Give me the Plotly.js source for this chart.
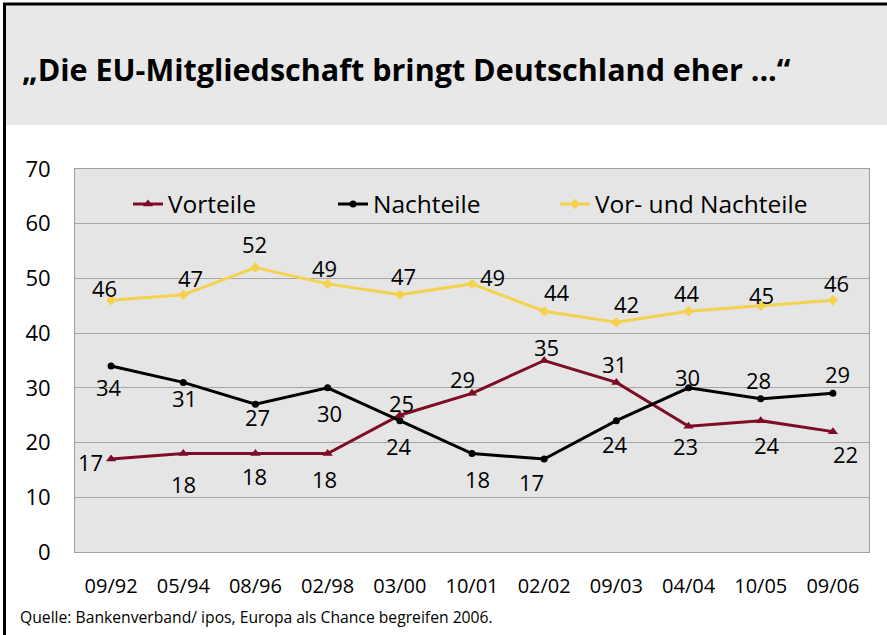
<!DOCTYPE html>
<html>
<head>
<meta charset="utf-8">
<script src="https://cdn.plot.ly/plotly-3.0.1.min.js"></script>
<style>html,body{margin:0;padding:0;background:#fff;}#chart{width:887px;height:635px;}</style>
</head>
<body>
<div id="chart"></div>
<script>
// ---- data ----
const categories = ["09/92","05/94","08/96","02/98","03/00","10/01","02/02","09/03","04/04","10/05","09/06"];
const vorteile   = [17,18,18,18,25,29,35,31,23,24,22];
const nachteile  = [34,31,27,30,24,18,17,24,30,28,29];
const vorNach    = [46,47,52,49,47,49,44,42,44,45,46];
const seriesNames = ["Vorteile","Nachteile","Vor- und Nachteile"];
const titleText = "„Die EU-Mitgliedschaft bringt Deutschland eher ...“";
const sourceText = "Quelle: Bankenverband/ ipos, Europa als Chance begreifen 2006.";

// ---- label placement offsets (px, dx right, dy down) ----
const offVor  = [[-21,3],[0,30],[-1,22],[-3,25],[2,-12],[-10,-14],[2,-14],[-2,-18],[-3,20],[6,24],[13,22]];
const offNach = [[-2,21],[1,16],[2,13],[2,25],[-1,25],[5,25],[-13,23],[-1,23],[-1,-11],[-2,-19],[5,-19]];
const offVN   = [[-7,-12],[7,-17],[-1,-23],[-3,-16],[4,-19],[20,-7],[13,-19],[10,-18],[-2,-18],[1,-11],[4,-17]];

const FONT = "Open Sans, Noto Sans, sans-serif";
const cRed = "#7d0c24", cBlack = "#000000", cYellow = "#f5d24e";

const traces = [
  {x: categories, y: vorteile, name: seriesNames[0], type: "scatter", mode: "lines+markers",
   line: {color: cRed, width: 3}, marker: {symbol: "triangle-up", size: 9, color: cRed}, legend: "legend"},
  {x: categories, y: nachteile, name: seriesNames[1], type: "scatter", mode: "lines+markers",
   line: {color: cBlack, width: 3}, marker: {symbol: "circle", size: 7, color: cBlack}, legend: "legend2"},
  {x: categories, y: vorNach, name: seriesNames[2], type: "scatter", mode: "lines+markers",
   line: {color: cYellow, width: 3}, marker: {symbol: "diamond", size: 8, color: cYellow}, legend: "legend3"}
];

const annotations = [];
function addLabels(vals, offs) {
  vals.forEach((v, i) => {
    annotations.push({x: categories[i], y: v, xref: "x", yref: "y", text: String(v), showarrow: false,
      xshift: offs[i][0], yshift: -offs[i][1], xanchor: "center", yanchor: "middle",
      font: {family: FONT, size: 22, color: "#000"}});
  });
}
addLabels(vorteile, offVor);
addLabels(nachteile, offNach);
addLabels(vorNach, offVN);

// plot area: px x 75..869, y 169..552
const L = 75, R = 869, T = 169, B = 552, W = 887, H = 635;
const px = v => (v - L) / (R - L);
const py = v => (B - v) / (B - T);

annotations.push({xref: "paper", yref: "paper", x: px(18), y: py(617), xanchor: "left", yanchor: "middle",
  text: sourceText, showarrow: false, font: {family: FONT, size: 15.7, color: "#000"}});

const legendFont = {family: FONT, size: 24.5, color: "#000"};
function leg(xpx) {
  return {orientation: "h", x: px(xpx), xanchor: "left", y: py(204), yanchor: "middle",
    bgcolor: "rgba(0,0,0,0)", borderwidth: 0, font: legendFont};
}

const layout = {
  width: W, height: H,
  margin: {l: L, r: W - R, t: T, b: H - B, pad: 0},
  paper_bgcolor: "#ffffff",
  plot_bgcolor: "#e5e5e5",
  showlegend: true,
  legend: leg(128), legend2: leg(333), legend3: leg(555),
  title: {text: titleText, x: 22 / W, xanchor: "left", xref: "container", y: 1 - 70 / H, yref: "container", yanchor: "middle",
    font: {family: FONT, size: 30.5, color: "#000", weight: "bold"}},
  xaxis: {type: "category", range: [-0.5, 10.5], showgrid: false, zeroline: false,
    showline: true, linecolor: "#a0a0a0", linewidth: 1, mirror: true, ticks: "",
    tickfont: {family: FONT, size: 20, color: "#000"}, ticklabelstandoff: 16, fixedrange: true},
  yaxis: {range: [0, 70], dtick: 10, showgrid: true, gridcolor: "#a6a6a6", gridwidth: 1, zeroline: false,
    showline: true, linecolor: "#a0a0a0", linewidth: 1, mirror: true, ticks: "",
    tickfont: {family: FONT, size: 22, color: "#000"}, ticklabelstandoff: 19, fixedrange: true},
  shapes: [
    {type: "rect", xref: "paper", yref: "paper", x0: px(5), x1: px(887), y0: py(125), y1: py(5),
     fillcolor: "#e8e8e8", line: {width: 0}, layer: "below"},
    {type: "line", xref: "paper", yref: "paper", x0: px(4.5), x1: px(4.5), y0: py(636), y1: py(3),
     line: {color: "#000", width: 3}},
    {type: "line", xref: "paper", yref: "paper", x0: px(3), x1: px(890), y0: py(4), y1: py(4),
     line: {color: "#000", width: 3}}
  ],
  annotations: annotations
};

Plotly.newPlot("chart", traces, layout, {displayModeBar: false, staticPlot: true});
</script>
</body>
</html>
